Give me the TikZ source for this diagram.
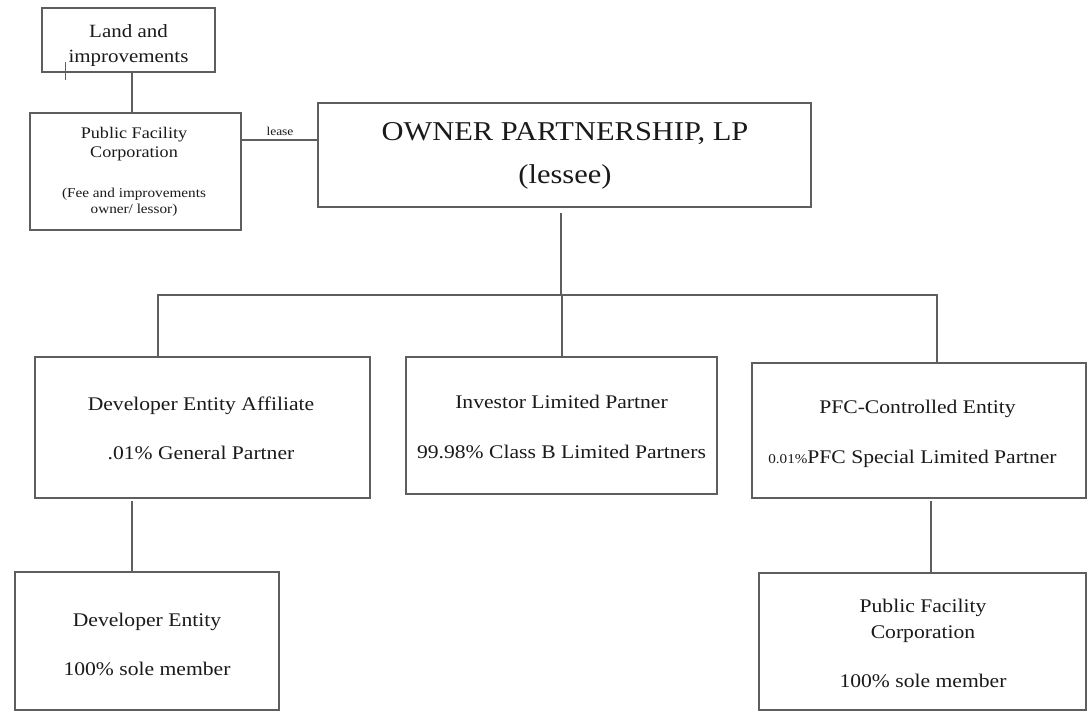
\documentclass[tikz,border=0pt]{standalone}
\usepackage{fontspec}
\setmainfont[FakeStretch=1.12]{Liberation Serif}
\newcommand\fsz[1]{\fontsize{#1}{#1}\selectfont}
\definecolor{linec}{HTML}{5E5E5E}
\definecolor{txtc}{HTML}{1A1A1A}
\begin{document}
\begin{tikzpicture}[x=1pt,y=-1pt,
  box/.style={draw=linec,line width=1.4pt,inner sep=0pt,outer sep=0pt},
  txt/.style={anchor=base,inner sep=0pt,outer sep=0pt,text=txtc,font=\fsz{19.3}},
  conn/.style={draw=linec,line width=1.4pt}]
\useasboundingbox[fill=white] (0,0) rectangle (1088,712);
% boxes
\node[box,minimum width=173pt,minimum height=64pt] (land) at (128.5,40) {};
\node[box,minimum width=211pt,minimum height=117pt] (pfc) at (135.5,171.5) {};
\node[box,minimum width=493pt,minimum height=104pt] (owner) at (564.5,155) {};
\node[box,minimum width=335pt,minimum height=141pt] (dea) at (202.5,427.5) {};
\node[box,minimum width=311pt,minimum height=137pt] (ilp) at (561.5,425.5) {};
\node[box,minimum width=334pt,minimum height=135pt] (pce) at (919,430.5) {};
\node[box,minimum width=264pt,minimum height=138pt] (de) at (147,641) {};
\node[box,minimum width=327pt,minimum height=137pt] (pfcb) at (922.5,641.5) {};
% texts
\node[txt,font=\fsz{18.7}] (landA) at (128.5,37) {Land and};
\node[txt,font=\fsz{18.7}] (landB) at (128.5,62) {improvements};
\node[txt,font=\fsz{16.2}] (pfcA) at (134,138) {Public Facility};
\node[txt,font=\fsz{16.2}] (pfcB) at (134,157) {Corporation};
\node[txt,font=\fsz{13.6}] (pfcC) at (134,197) {(Fee and improvements};
\node[txt,font=\fsz{13.6}] (pfcD) at (134,213) {owner/ lessor)};
\node[txt,font=\fsz{12}] (lease) at (280,135) {lease};
\node[txt,font=\fsz{27.2}] (ownA) at (565,140) {OWNER PARTNERSHIP, LP};
\node[txt,font=\fsz{27.2}] (ownB) at (565,183) {(lessee)};
\node[txt] (deaA) at (201,410) {Developer Entity Affiliate};
\node[txt] (deaB) at (201,459) {.01\% General Partner};
\node[txt] (ilpA) at (561.5,408) {Investor Limited Partner};
\node[txt] (ilpB) at (561.5,458) {99.98\% Class B Limited Partners};
\node[txt] (pceA) at (917.5,413) {PFC-Controlled Entity};
\node[txt] (pceB) at (912.5,463) {{\fsz{13.5}0.01\%}PFC Special Limited Partner};
\node[txt] (deA) at (147,626) {Developer Entity};
\node[txt] (deB) at (147,675) {100\% sole member};
\node[txt] (pfcbA) at (923,612) {Public Facility};
\node[txt] (pfcbB) at (923,638) {Corporation};
\node[txt] (pfcbC) at (923,687) {100\% sole member};
% helper coordinates
\coordinate (xa) at (132,0);
\coordinate (ly) at (0,140);
\coordinate (xo) at (561,213);
\coordinate (bus) at (0,295);
\coordinate (xl) at (158,0);
\coordinate (xm) at (562,0);
\coordinate (xr) at (937,0);
\coordinate (xrb) at (931,501);
\coordinate (xlb) at (132,501);
\coordinate (tickA) at (65,62);
\coordinate (tickB) at (65,80);
% connectors
\draw[conn] (land.south -| xa) -- (pfc.north -| xa);
\draw[conn] (pfc.east |- ly) -- (owner.west |- ly);
\draw[conn] (xo) -- (xo |- bus);
\draw[conn] (dea.north -| xl) -- (xl |- bus) -- (xr |- bus) -- (pce.north -| xr);
\draw[conn] (xm |- bus) -- (ilp.north -| xm);
\draw[conn] (xlb) -- (de.north -| xlb);
\draw[conn] (xrb) -- (pfcb.north -| xrb);
\draw[draw=linec,line width=1pt] (tickA) -- (tickB);
\end{tikzpicture}
\end{document}
